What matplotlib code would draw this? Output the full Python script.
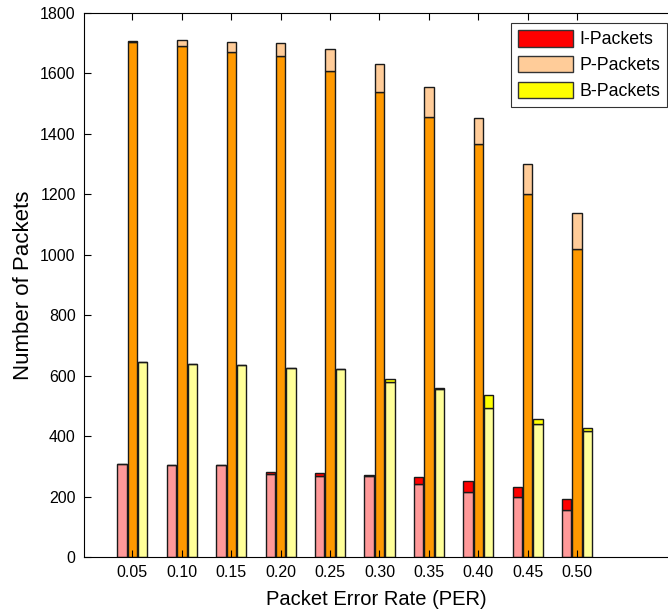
import numpy as np
import matplotlib.pyplot as plt
from matplotlib.patches import Patch

plt.rcParams['font.family'] = ['Liberation Sans', 'DejaVu Sans']

per_labels = ['0.05', '0.10', '0.15', '0.20', '0.25', '0.30', '0.35', '0.40', '0.45', '0.50']

# received / lost packets per frame type
i_recv = [308, 304, 304, 274, 269, 268, 243, 215, 198, 155]
i_lost = [0, 0, 0, 8, 9, 4, 22, 35, 33, 38]
p_recv = [1703, 1690, 1671, 1657, 1609, 1538, 1456, 1367, 1201, 1018]
p_lost = [5, 20, 33, 43, 73, 94, 100, 86, 98, 120]
b_recv = [645, 640, 635, 627, 622, 578, 555, 492, 439, 416]
b_lost = [0, 0, 0, 0, 0, 10, 5, 43, 19, 10]

series = [
    (i_recv, i_lost, '#ff9999', '#ff0000', 'I-Packets'),
    (p_recv, p_lost, '#ff9900', '#ffcc99', 'P-Packets'),
    (b_recv, b_lost, '#ffff99', '#ffff00', 'B-Packets'),
]

fig = plt.figure(figsize=(6.68, 6.14), dpi=100)
ax = fig.add_axes([84 / 668, 57 / 614, 584 / 668, 544 / 614])

x = np.arange(1, len(per_labels) + 1)
w = 0.19
offsets = [-0.21, 0.0, 0.21]
handles = []
for (recv, lost, c_recv, c_lost, name), off in zip(series, offsets):
    ax.bar(x + off, recv, w, color=c_recv, edgecolor='#1a1a1a', linewidth=1)
    ax.bar(x + off, lost, w, bottom=recv, color=c_lost, edgecolor='#1a1a1a', linewidth=1)
    handles.append(Patch(facecolor=c_lost, edgecolor='#333333', label=name))

ax.set_xlim(0.02, 11.84)
ax.set_ylim(0, 1800)
ax.set_yticks(np.arange(0, 1801, 200))
ax.set_xticks(x)
ax.set_xticklabels(per_labels)
ax.tick_params(direction='in', top=True, right=False, labelsize=11.5, length=5, width=0.8)
ax.tick_params(axis='x', pad=6)
ax.tick_params(axis='y', pad=6)
ax.spines['right'].set_visible(False)
for s in ['left', 'top', 'bottom']:
    ax.spines[s].set_linewidth(0.8)

ax.set_xlabel('Packet Error Rate (PER)', fontsize=14.5, labelpad=7)
ax.set_ylabel('Number of Packets', fontsize=16, labelpad=4)

leg = ax.legend(handles=handles, loc='upper right', bbox_to_anchor=(0.9983, 0.9816),
                borderaxespad=0, fontsize=12.8, frameon=True, fancybox=False,
                edgecolor='black', handlelength=3.1, handleheight=1.05, labelspacing=0.42,
                borderpad=0.4, handletextpad=0.35)
leg.get_frame().set_linewidth(0.8)

fig.savefig('out.png', dpi=100)
